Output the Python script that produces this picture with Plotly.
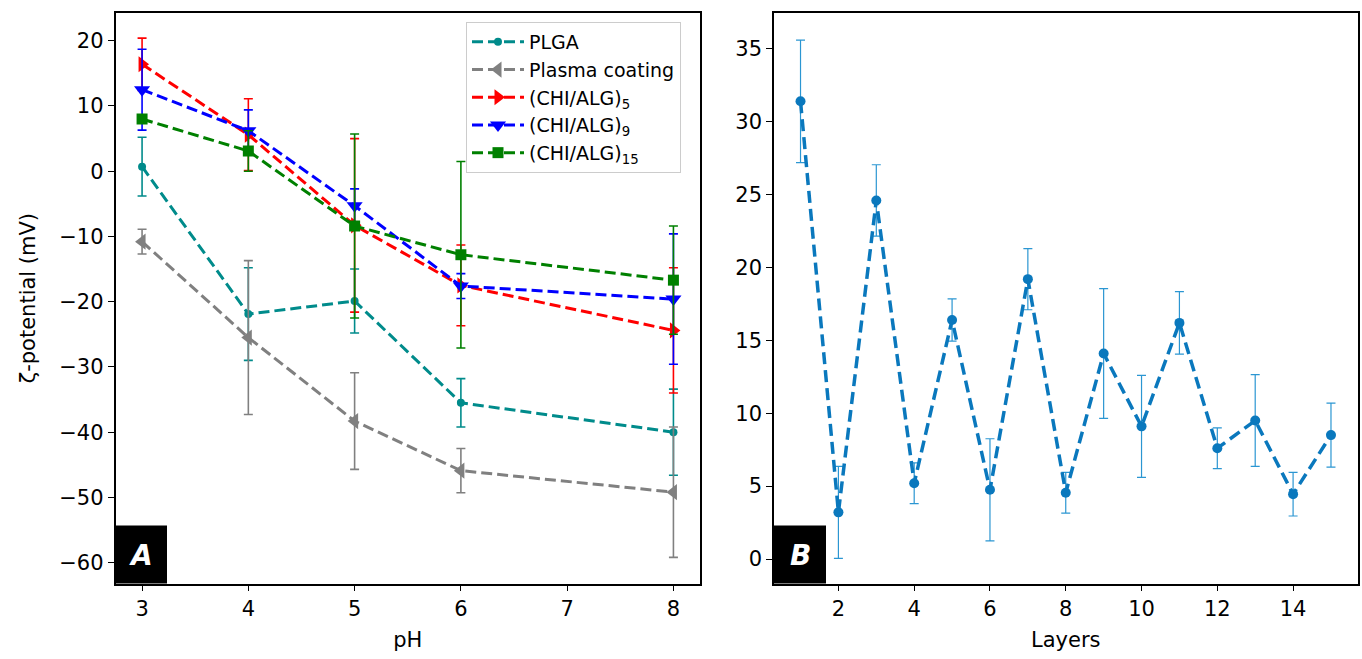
import plotly.graph_objects as go

# ---------------- data (panel A) ----------------
ph = [3, 4, 5, 6, 8]
plga = [0.7, -21.9, -19.9, -35.5, -40.0]
plga_err = [4.5, 7.1, 4.9, 3.7, 6.6]
plasma = [-10.8, -25.5, -38.3, -45.9, -49.2]
plasma_err = [1.9, 11.8, 7.4, 3.4, 10.0]
chi5 = [16.4, 5.6, -8.3, -17.5, -24.4]
chi5_err = [4.0, 5.5, 13.3, 6.2, 9.6]
chi9 = [12.5, 6.2, -5.3, -17.6, -19.6]
chi9_err = [6.2, 3.2, 2.6, 1.9, 10.0]
chi15 = [8.0, 3.1, -8.4, -12.8, -16.7]
chi15_err = [0.6, 3.1, 14.1, 14.3, 8.3]

series_names = ["PLGA", "Plasma coating", "(CHI/ALG)<sub>5</sub>",
                "(CHI/ALG)<sub>9</sub>", "(CHI/ALG)<sub>15</sub>"]

# ---------------- data (panel B) ----------------
layers = list(range(1, 16))
layer_zeta = [31.4, 3.2, 24.6, 5.2, 16.4, 4.75, 19.2, 4.55, 14.1, 9.1, 16.2, 7.6, 9.5, 4.45, 8.5]
layer_err = [4.2, 3.15, 2.45, 1.4, 1.45, 3.5, 2.1, 1.4, 4.45, 3.5, 2.15, 1.4, 3.15, 1.5, 2.2]

ph_ticks = [3, 4, 5, 6, 7, 8]
zeta_ticks_a = [-60, -50, -40, -30, -20, -10, 0, 10, 20]
layer_ticks = [2, 4, 6, 8, 10, 12, 14]
zeta_ticks_b = [0, 5, 10, 15, 20, 25, 30, 35]

W, H = 1362, 659
FONT = "DejaVu Sans"

def px(x):
    return x / W

def py(y):
    return (H - y) / H

fig = go.Figure()

styles = [
    (plga, plga_err, "#008b8b", "circle", 8),
    (plasma, plasma_err, "#808080", "triangle-left", 14),
    (chi5, chi5_err, "#ff0000", "triangle-right", 14),
    (chi9, chi9_err, "#0000ff", "triangle-down", 14),
    (chi15, chi15_err, "#008000", "square", 11),
]

for (vals, errs, col, sym, ms), name in zip(styles, series_names):
    fig.add_trace(go.Scatter(
        x=ph, y=vals, name=name, mode="lines+markers",
        line=dict(color=col, width=3, dash="11px,5px"),
        marker=dict(color=col, symbol=sym, size=ms),
        error_y=dict(type="data", array=errs, visible=True, color=col,
                     thickness=1.6, width=4.5),
        xaxis="x", yaxis="y",
    ))

fig.add_trace(go.Scatter(
    x=layers, y=layer_zeta, mode="lines+markers", showlegend=False,
    line=dict(color="#0a78bd", width=3.5, dash="12px,6px"),
    marker=dict(color="#0a78bd", symbol="circle", size=10),
    error_y=dict(type="data", array=layer_err, visible=True, color="#2b96d2",
                 thickness=1.2, width=4.5),
    xaxis="x2", yaxis="y2",
))

y_dom = [py(583.5), py(12.7)]
axis_common = dict(
    showline=True, linecolor="black", linewidth=1.5, mirror=True,
    ticks="outside", ticklen=6, tickwidth=1.3, tickcolor="black",
    showgrid=False, zeroline=False, automargin=False,
    tickfont=dict(family=FONT, size=21, color="black"),
)

fig.update_layout(
    width=W, height=H,
    margin=dict(l=0, r=0, t=0, b=0),
    paper_bgcolor="white", plot_bgcolor="white",
    font=dict(family=FONT, size=21, color="black"),
    xaxis=dict(domain=[px(115.5), px(700)], range=[2.75, 8.25],
               tickmode="array", tickvals=ph_ticks,
               title=dict(text="pH", font=dict(family=FONT, size=21), standoff=12),
               anchor="y", **axis_common),
    yaxis=dict(domain=y_dom, range=[-63.2, 24.3],
               tickmode="array", tickvals=zeta_ticks_a,
               title=dict(text="ζ-potential (mV)", font=dict(family=FONT, size=21), standoff=18),
               anchor="x", **axis_common),
    xaxis2=dict(domain=[px(774), px(1357.5)], range=[0.3, 15.7],
                tickmode="array", tickvals=layer_ticks,
                title=dict(text="Layers", font=dict(family=FONT, size=21), standoff=12),
                anchor="y2", **axis_common),
    yaxis2=dict(domain=y_dom, range=[-1.68, 37.48],
                tickmode="array", tickvals=zeta_ticks_b,
                anchor="x2", **axis_common),
    legend=dict(x=px(466), y=py(22), xanchor="left", yanchor="top",
                bgcolor="rgba(255,255,255,0.8)", bordercolor="#cccccc", borderwidth=1,
                font=dict(family=FONT, size=19, color="black"),
                itemwidth=52, tracegroupgap=0),
    showlegend=True,
)

# panel label boxes
for x0, x1, lab in [(115.5, 167, "A"), (774, 826, "B")]:
    fig.add_shape(type="rect", xref="paper", yref="paper",
                  x0=px(x0), x1=px(x1), y0=py(583.5), y1=py(525.5),
                  fillcolor="black", line=dict(width=0), layer="above")
    fig.add_annotation(xref="paper", yref="paper", x=px((x0 + x1) / 2), y=py(555),
                       text=f"<b><i>{lab}</i></b>", showarrow=False,
                       font=dict(family=FONT, size=28, color="white"),
                       xanchor="center", yanchor="middle")

fig.write_html("out.html",
               config={"displayModeBar": False},
               post_script="document.body.style.margin='0';document.body.style.overflow='hidden';")
